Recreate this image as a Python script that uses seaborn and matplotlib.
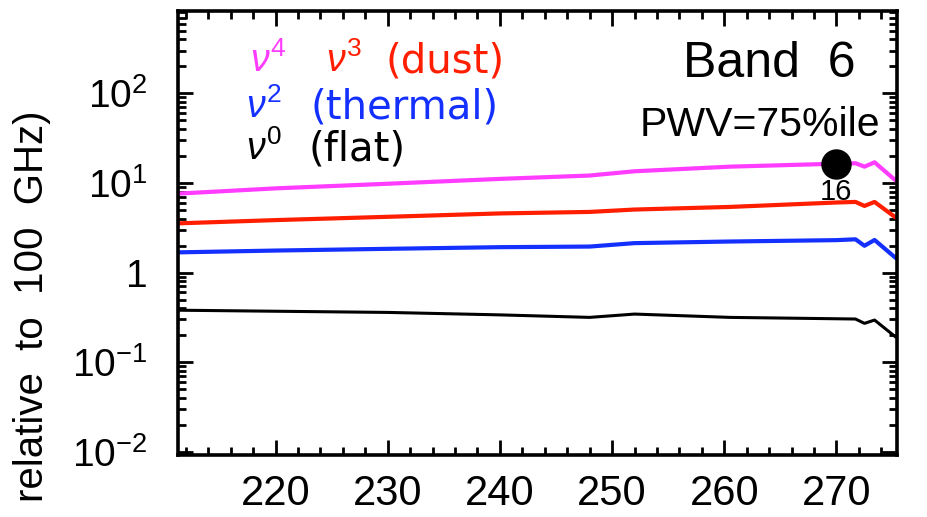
import numpy as np
import pandas as pd
import matplotlib
matplotlib.use("Agg")
import matplotlib.pyplot as plt
import matplotlib.ticker as mticker
import seaborn as sns

# ---- data ----
freq = [211.3, 220, 230, 240, 248, 252, 260.5, 270, 271.7, 272.5, 273.4, 275.3]
nu4_vals = [7.6, 8.7, 9.8, 11.1, 12.1, 13.5, 15.2, 16.4, 16.6, 15.2, 17.0, 10.6]
dust_vals = [3.54, 3.85, 4.19, 4.57, 4.75, 5.05, 5.40, 6.05, 6.14, 5.54, 6.14, 4.10]
thermal_vals = [1.68, 1.76, 1.84, 1.92, 1.95, 2.13, 2.22, 2.30, 2.35, 1.99, 2.31, 1.45]
flat_vals = [0.380, 0.370, 0.359, 0.337, 0.316, 0.344, 0.316, 0.305, 0.303, 0.271, 0.295, 0.19]
series_names = ["nu4", "dust", "thermal", "flat"]
marker_x = [270]
marker_y = [16.4]
marker_label = "16"
xticks = [220, 230, 240, 250, 260, 270]
yticks = [1e-2, 1e-1, 1, 10, 100]
ytick_labels = [r"$10^{-2}$", r"$10^{-1}$", "1", r"$10^{1}$", r"$10^{2}$"]

df = pd.DataFrame({
    "freq": freq * 4,
    "value": nu4_vals + dust_vals + thermal_vals + flat_vals,
    "series": sum([[s] * len(freq) for s in series_names], []),
})

sns.set_style("ticks")
plt.rcParams["font.family"] = ["Liberation Sans", "DejaVu Sans"]
plt.rcParams["mathtext.fontset"] = "custom"
plt.rcParams["mathtext.rm"] = "Liberation Sans"
plt.rcParams["mathtext.it"] = "Liberation Sans:italic"
plt.rcParams["mathtext.bf"] = "Liberation Sans:bold"
for k in ["text.color", "axes.labelcolor", "xtick.color", "ytick.color", "axes.edgecolor"]:
    plt.rcParams[k] = "black"

W, H = 928, 517
fig = plt.figure(figsize=(W / 100, H / 100), dpi=100)
ax = fig.add_axes([178 / W, 1 - 455 / H, (897 - 178) / W, (455 - 11) / H])

colors = {"nu4": "#ff3cff", "dust": "#ff1e00", "thermal": "#1430ff", "flat": "black"}
widths = {"nu4": 3.0, "dust": 3.0, "thermal": 3.0, "flat": 2.2}
for s in series_names:
    sns.lineplot(data=df[df["series"] == s], x="freq", y="value", color=colors[s],
                 linewidth=widths[s], sort=False, ax=ax, legend=False)

sns.scatterplot(x=marker_x, y=marker_y, color="black", s=480, ax=ax, zorder=5,
                edgecolor="black", linewidth=0)

ax.set_yscale("log")
ax.set_xlim(211.3, 275.4)
ax.set_ylim(0.0092, 830)
ax.set_xlabel("")
ax.set_ylabel("")

ax.set_xticks(xticks)
ax.set_xticklabels([str(t) for t in xticks])
ax.xaxis.set_minor_locator(mticker.MultipleLocator(2))
ax.set_yticks(yticks)
ax.set_yticklabels(ytick_labels)
ax.yaxis.set_minor_locator(mticker.LogLocator(base=10, subs=np.arange(2, 10)))
ax.yaxis.set_minor_formatter(mticker.NullFormatter())

ax.tick_params(which="both", direction="in", top=True, right=True, width=2,
               color="black", labelcolor="black")
ax.tick_params(which="major", length=11)
ax.tick_params(which="minor", length=6)
ax.tick_params(axis="x", which="major", labelsize=30, pad=14)
ax.tick_params(axis="y", which="major", labelsize=28, pad=22)
for sp in ax.spines.values():
    sp.set_linewidth(2.6)
    sp.set_color("black")
    sp.set_visible(True)

def fx(px):
    return px / W

def fy(py):
    return 1 - py / H

# legend-like colored labels
fig.text(fx(250), fy(72), r"$\nu^{4}$", color=colors["nu4"], fontsize=27, va="baseline", ha="left")
fig.text(fx(326), fy(72), r"$\nu^{3}$", color=colors["dust"], fontsize=27, va="baseline", ha="left")
fig.text(fx(386), fy(72), "(dust)", color=colors["dust"], fontsize=29, va="baseline", ha="left",
         family="DejaVu Sans")
fig.text(fx(246), fy(118), r"$\nu^{2}$", color=colors["thermal"], fontsize=27, va="baseline", ha="left")
fig.text(fx(310), fy(118), "(thermal)", color=colors["thermal"], fontsize=29, va="baseline", ha="left",
         family="DejaVu Sans")
fig.text(fx(246), fy(160), r"$\nu^{0}$", color="black", fontsize=27, va="baseline", ha="left")
fig.text(fx(308), fy(160), "(flat)", color="black", fontsize=29, va="baseline", ha="left",
         family="DejaVu Sans")

fig.text(fx(856), fy(77), "Band  6", color="black", fontsize=36, va="baseline", ha="right")
fig.text(fx(880), fy(136), "PWV=75%ile", color="black", fontsize=29.5, va="baseline", ha="right")

ax.annotate(marker_label, xy=(marker_x[0], marker_y[0]), xytext=(0, -36),
            textcoords="offset pixels", ha="center", va="baseline", fontsize=21, color="black")

fig.text(fx(32), fy(110), "relative  to  100  GHz)", rotation=90, ha="center", va="top",
         fontsize=29, color="black")

fig.savefig("out.png", dpi=100)
